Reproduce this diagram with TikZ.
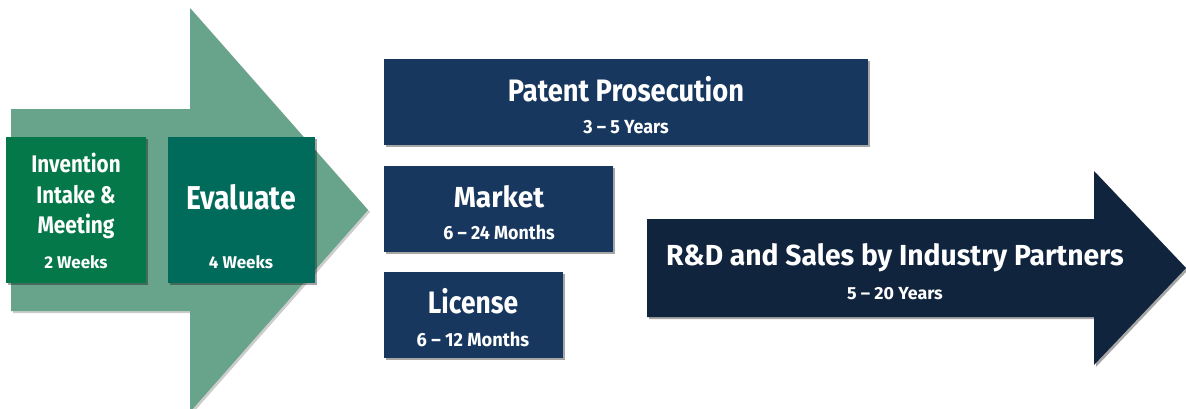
\documentclass[tikz,border=0pt]{standalone}
\usepackage{fontspec}
\usepackage{graphicx}
\setmainfont{Fira Sans}
\usetikzlibrary{shadows}
\definecolor{arrowgreen}{HTML}{68A48B}
\definecolor{boxgreen}{HTML}{047848}
\definecolor{boxteal}{HTML}{006B5B}
\definecolor{navy}{HTML}{17375E}
\definecolor{darknavy}{HTML}{10243E}
\newcommand{\sx}[2]{\scalebox{#1}[1]{#2}}
\tikzset{
  shade box/.style={drop shadow={shadow xshift=2pt,shadow yshift=-2pt,opacity=0.35,fill=black}},
  box/.style={draw=none, inner sep=0pt, outer sep=0pt, anchor=north west, shade box},
  lbl/.style={text=white, anchor=base, inner sep=0pt, font=\bfseries\fontsize{#1}{#1}\selectfont},
}
\begin{document}
\begin{tikzpicture}[x=1pt,y=-1pt]
\useasboundingbox (0,0) rectangle (1186,408);
% big green arrow
\path[fill=arrowgreen, drop shadow={shadow xshift=2pt,shadow yshift=-2pt,opacity=0.2,fill=black}]
  (11,109) -- (190,109) -- (190,8) -- (368,210) -- (190,412) -- (190,311) -- (11,311) -- cycle;
% green boxes
\node[box, fill=boxgreen, minimum width=140pt, minimum height=146pt] (inv) at (6,137) {};
\node[box, fill=boxteal, minimum width=147pt, minimum height=146pt] (eval) at (168,137) {};
% navy boxes
\node[box, fill=navy, minimum width=484pt, minimum height=86pt] (pat) at (384,59) {};
\node[box, fill=navy, minimum width=229pt, minimum height=86pt] (mkt) at (384,166) {};
\node[box, fill=navy, minimum width=179pt, minimum height=86pt] (lic) at (384,272) {};
% dark arrow
\path[fill=darknavy, shade box]
  (647,219) -- (1094,219) -- (1094,171) -- (1186,268) -- (1094,365) -- (1094,317) -- (647,317) -- cycle;
% labels
\node[lbl=24] (invt1) at (76,172) {\sx{0.86}{Invention}};
\node[lbl=24] (invt2) at (76,203) {\sx{0.85}{Intake \&}};
\node[lbl=24] (invt3) at (76,233) {\sx{0.87}{Meeting}};
\node[lbl=17] (invs) at (76,268) {\sx{1.0}{2 Weeks}};
\node[lbl=33] (evt) at (241,209) {\sx{0.86}{Evaluate}};
\node[lbl=17] (evs) at (241,268) {\sx{1.0}{4 Weeks}};
\node[lbl=31] (patt) at (626,101) {\sx{0.88}{Patent Prosecution}};
\node[lbl=19] (pats) at (626,133) {\sx{0.94}{3 – 5 Years}};
\node[lbl=29] (mktt) at (499,207) {\sx{0.97}{Market}};
\node[lbl=19] (mkts) at (499,239) {\sx{0.94}{6 – 24 Months}};
\node[lbl=31] (lict) at (473,313) {\sx{0.85}{License}};
\node[lbl=19] (lics) at (473,346) {\sx{0.96}{6 – 12 Months}};
\node[lbl=29] (rdt) at (895,265) {\sx{0.975}{R\&D and Sales by Industry Partners}};
\node[lbl=17.5] (rds) at (895,299) {\sx{1.02}{5 – 20 Years}};
\end{tikzpicture}
\end{document}
